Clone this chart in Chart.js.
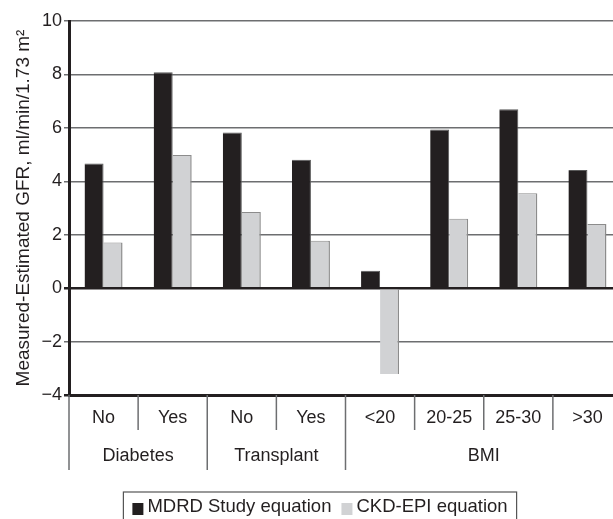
<!DOCTYPE html>
<html>
<head>
<meta charset="utf-8">
<script src="https://cdn.jsdelivr.net/npm/chart.js@4.4.1/dist/chart.umd.min.js"></script>
<style>
  html, body { margin: 0; padding: 0; background: #fff; }
  #wrap { width: 613px; height: 519px; overflow: hidden; }
  #inner { width: 640px; height: 519px; }
</style>
</head>
<body>
<div id="wrap"><div id="inner"><canvas id="myChart" width="640" height="519"></canvas></div></div>
<script>
const categories = ['No', 'Yes', 'No', 'Yes', '<20', '20-25', '25-30', '>30'];
const groups = ['Diabetes', 'Transplant', 'BMI'];
const groupSizes = [2, 2, 4];
const mdrd = [4.67, 8.08, 5.83, 4.81, 0.65, 5.94, 6.70, 4.42];
const ckdEpi = [1.71, 4.98, 2.85, 1.77, -3.21, 2.60, 3.55, 2.40];
const yMin = -4, yMax = 10, yStep = 2;

const FONT = "'Liberation Sans', Arial, sans-serif";
const INK = '#231f20';
const GRID = '#6d6e70';

// category separators, group labels and the boxed legend
const extras = {
  id: 'extras',
  afterDraw(chart) {
    const ctx = chart.ctx;
    const x = chart.scales.x;
    const w = (x.right - x.left) / categories.length;
    const top = x.top;
    ctx.save();
    ctx.strokeStyle = GRID;
    ctx.lineWidth = 1.5;
    const groupEdges = [0];
    groupSizes.reduce((s, n) => { groupEdges.push(s + n); return s + n; }, 0);
    for (let i = 0; i <= categories.length; i++) {
      const px = x.left + i * w;
      const long = groupEdges.includes(i);
      ctx.beginPath();
      ctx.moveTo(px, top);
      ctx.lineTo(px, top + (long ? 75 : 35));
      ctx.stroke();
    }
    ctx.fillStyle = INK;
    ctx.font = '18px ' + FONT;
    ctx.textAlign = 'center';
    ctx.textBaseline = 'middle';
    groups.forEach((g, k) => {
      const cx = x.left + (groupEdges[k] + groupEdges[k + 1]) / 2 * w;
      ctx.fillText(g, cx, top + 61);
    });

    // legend
    const ds = chart.data.datasets;
    ctx.font = '18.5px ' + FONT;
    const sq = 11, gap = 4, itemGap = 10, pad = 9;
    const widths = ds.map(d => ctx.measureText(d.label).width);
    let total = pad * 2 + itemGap * (ds.length - 1);
    widths.forEach(t => total += sq + gap + t);
    const lx = chart.width / 2 - total / 2;
    const ly = 492;
    ctx.strokeStyle = '#555';
    ctx.lineWidth = 1.2;
    ctx.strokeRect(lx, ly, total, 40);
    let cx = lx + pad;
    ctx.textAlign = 'left';
    ds.forEach((d, i) => {
      ctx.fillStyle = d.backgroundColor;
      ctx.fillRect(cx, 503, sq, sq + 1);
      cx += sq + gap;
      ctx.fillStyle = INK;
      ctx.fillText(d.label, cx, 507);
      cx += widths[i] + itemGap;
    });
    ctx.restore();
  }
};

new Chart(document.getElementById('myChart'), {
  type: 'bar',
  data: {
    labels: categories,
    datasets: [
      {
        label: 'MDRD Study equation',
        data: mdrd,
        backgroundColor: INK,
        borderColor: '#5a5a5a',
        borderWidth: { top: 1, right: 1, left: 0, bottom: 0 }
      },
      {
        label: 'CKD-EPI equation',
        data: ckdEpi,
        backgroundColor: '#d1d2d4',
        borderColor: '#8c8c8c',
        borderWidth: { top: 1, right: 1.5, left: 0, bottom: 0 }
      }
    ]
  },
  options: {
    responsive: false,
    animation: false,
    layout: { padding: { left: 0, right: 18, top: 21, bottom: 0 } },
    categoryPercentage: 0.55,
    barPercentage: 1.0,
    plugins: {
      legend: { display: false },
      tooltip: { enabled: false }
    },
    scales: {
      x: {
        grid: { display: true, drawOnChartArea: false, drawTicks: false },
        border: { display: true, color: INK, width: 3 },
        ticks: { color: INK, font: { family: FONT, size: 18 }, padding: 12 },
        afterFit(scale) { scale.height = 124; }
      },
      y: {
        min: yMin,
        max: yMax,
        ticks: {
          stepSize: yStep,
          color: INK,
          padding: 2,
          font: { family: FONT, size: 18 },
          callback: v => String(v).replace('-', '\u2212')
        },
        grid: {
          tickLength: 5,
          color: c => (c.tick && (c.tick.value === 0 || c.tick.value === yMin)) ? INK : GRID,
          lineWidth: c => (c.tick && (c.tick.value === 0 || c.tick.value === yMin)) ? 2.5 : 1.5
        },
        border: { display: true, color: INK, width: 3 },
        title: {
          display: true,
          text: 'Measured-Estimated GFR, ml/min/1.73 m\u00b2',
          color: INK,
          font: { family: FONT, size: 19 },
          padding: { top: 12, bottom: 0 }
        },
        afterFit(scale) { scale.width = 69; }
      }
    }
  },
  plugins: [extras]
});
</script>
</body>
</html>
